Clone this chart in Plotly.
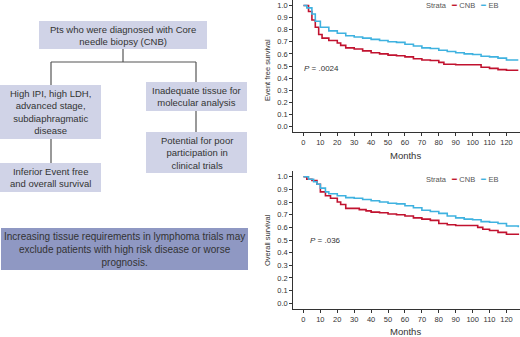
import plotly.graph_objects as go

W, H = 520, 337

# ---------------- data ----------------
months_efs_eb = [0, 2, 5, 7, 10, 15, 20, 25, 30, 35, 40, 45, 50, 55, 60, 65, 70, 75, 80, 85, 90, 95, 100, 105, 110, 115, 120, 127]
efs_eb = [1.0, 0.98, 0.93, 0.87, 0.82, 0.79, 0.77, 0.75, 0.74, 0.73, 0.72, 0.71, 0.70, 0.695, 0.68, 0.665, 0.65, 0.645, 0.63, 0.62, 0.61, 0.60, 0.595, 0.58, 0.575, 0.565, 0.55, 0.55]
months_efs_cnb = [0, 3, 5, 7, 9, 11, 15, 20, 22, 25, 30, 35, 40, 45, 50, 55, 60, 65, 70, 75, 80, 83, 90, 100, 105, 110, 115, 120, 127]
efs_cnb = [1.0, 0.95, 0.88, 0.82, 0.76, 0.73, 0.71, 0.69, 0.67, 0.65, 0.64, 0.625, 0.61, 0.60, 0.59, 0.585, 0.575, 0.56, 0.55, 0.545, 0.53, 0.515, 0.51, 0.51, 0.49, 0.48, 0.47, 0.465, 0.465]

months_os_eb = [0, 3, 6, 8, 10, 13, 15, 20, 25, 30, 35, 40, 45, 50, 55, 60, 65, 70, 75, 80, 85, 90, 95, 100, 105, 110, 115, 120, 127]
os_eb = [1.0, 0.98, 0.96, 0.94, 0.91, 0.88, 0.865, 0.85, 0.835, 0.83, 0.82, 0.81, 0.80, 0.79, 0.785, 0.77, 0.755, 0.735, 0.725, 0.71, 0.69, 0.675, 0.665, 0.66, 0.645, 0.64, 0.63, 0.61, 0.60]
months_os_cnb = [0, 2, 5, 8, 10, 13, 16, 20, 22, 25, 30, 33, 37, 40, 45, 50, 55, 60, 65, 70, 75, 80, 85, 90, 100, 103, 106, 110, 115, 120, 127]
os_cnb = [1.0, 0.98, 0.97, 0.94, 0.88, 0.85, 0.83, 0.80, 0.78, 0.75, 0.75, 0.74, 0.73, 0.72, 0.715, 0.705, 0.70, 0.69, 0.675, 0.665, 0.655, 0.63, 0.62, 0.615, 0.615, 0.60, 0.585, 0.575, 0.56, 0.545, 0.54]

x_ticks = list(range(0, 121, 10))
y_ticks = [i / 10 for i in range(11)]
p_values = ["= .0024", "= .036"]
y_titles = ["Event free survival", "Overall survival"]
strata = ["CNB", "EB"]

flow_boxes = [
    "Pts who were diagnosed with Core<br>needle biopsy (CNB)",
    "High IPI, high LDH,<br>advanced stage,<br>subdiaphragmatic<br>disease",
    "Inadequate tissue for<br>molecular analysis",
    "Inferior Event free<br>and overall survival",
    "Potential for poor<br>participation in<br>clinical trials",
    "Increasing tissue requirements in lymphoma trials may<br>exclude patients with high risk disease or worse<br>prognosis.",
]

RED = "#c1122f"
BLUE = "#3fb2e0"
FONT = "Liberation Sans, Arial, sans-serif"


def px(x):
    return x / W


def py(y):
    return 1 - y / H


fig = go.Figure()

# KM curves
for (mx, vy, name, col, ax) in [
    (months_efs_cnb, efs_cnb, strata[0], RED, ""),
    (months_efs_eb, efs_eb, strata[1], BLUE, ""),
    (months_os_cnb, os_cnb, strata[0], RED, "2"),
    (months_os_eb, os_eb, strata[1], BLUE, "2"),
]:
    fig.add_trace(go.Scatter(x=mx, y=vy, mode="lines", line=dict(color=col, width=1.6, shape="hv"),
                             name=name, showlegend=False, xaxis="x" + ax, yaxis="y" + ax))

axis_common = dict(showgrid=False, zeroline=False, showline=True, linecolor="#333", linewidth=1,
                   ticks="outside", ticklen=3, tickcolor="#333", tickwidth=1, automargin=False,
                   tickfont=dict(family=FONT, size=7.5, color="#333"))

xdom = [px(293.3), 1.0]
fig.update_layout(
    width=W, height=H, margin=dict(l=0, r=0, t=0, b=0),
    paper_bgcolor="white", plot_bgcolor="white",
    xaxis=dict(domain=xdom, range=[-6, 128], tickvals=x_ticks, anchor="y", **axis_common),
    yaxis=dict(domain=[py(132), py(0)], range=[-0.045, 1.045], tickvals=y_ticks, tickformat=".1f",
               anchor="x", **axis_common),
    xaxis2=dict(domain=xdom, range=[-6, 128], tickvals=x_ticks, anchor="y2", **axis_common),
    yaxis2=dict(domain=[py(309), py(171)], range=[-0.045, 1.045], tickvals=y_ticks, tickformat=".1f",
                anchor="x2", **axis_common),
    showlegend=False,
)

ann = []
# axis titles
for yc, t in [(70, y_titles[0]), (240, y_titles[1])]:
    ann.append(dict(x=px(267), y=py(yc), xref="paper", yref="paper", text=t, textangle=-90,
                    xanchor="center", yanchor="middle",
                    showarrow=False, font=dict(family=FONT, size=7.5, color="#333")))
for yc in [155, 331.5]:
    ann.append(dict(x=px(405), y=py(yc), xref="paper", yref="paper", text="Months",
                    xanchor="center", yanchor="middle",
                    showarrow=False, font=dict(family="Liberation Sans Narrow, Arial Narrow, sans-serif",
                                               size=9.5, color="#333")))
# p-values
ann.append(dict(x=-1, y=0.48, xref="x", yref="y", xanchor="left", yanchor="middle",
                text="<i>P</i> " + p_values[0],
                showarrow=False, font=dict(family=FONT, size=8, color="#333")))
ann.append(dict(x=2.5, y=0.5, xref="x2", yref="y2", xanchor="left", yanchor="middle",
                text="<i>P</i> " + p_values[1],
                showarrow=False, font=dict(family=FONT, size=8, color="#333")))
# legends
leg_text = ("Strata&nbsp;&nbsp;&nbsp;<span style='color:%s'>━</span> %s&nbsp;&nbsp;&nbsp;"
            "<span style='color:%s'>━</span> %s") % (RED, strata[0], BLUE, strata[1])
for yc in [5.5, 179]:
    ann.append(dict(x=px(501), y=py(yc), xref="paper", yref="paper", xanchor="right", yanchor="middle",
                    text=leg_text, showarrow=False, font=dict(family=FONT, size=7.5, color="#555")))

# flowchart
LIGHT = "#d0d3e7"
DARK = "#8f98c3"
boxes = [
    (39, 21, 207, 49, LIGHT, 9.5),
    (0, 85, 101, 139, LIGHT, 9.5),
    (146, 82, 247, 111, LIGHT, 9.5),
    (0, 163, 101, 192, LIGHT, 9.5),
    (146, 132, 247, 173, LIGHT, 9.5),
    (1, 228, 248, 270, DARK, 10),
]
shapes = []
for (x0, y0, x1, y1, c, fs), t in zip(boxes, flow_boxes):
    shapes.append(dict(type="rect", xref="paper", yref="paper", x0=px(x0), x1=px(x1), y0=py(y1), y1=py(y0),
                       fillcolor=c, line=dict(width=0), layer="below"))
    ann.append(dict(x=px((x0 + x1) / 2), y=py((y0 + y1) / 2), xref="paper", yref="paper", text=t,
                    xanchor="center", yanchor="middle",
                    showarrow=False, align="center", font=dict(family=FONT, size=fs, color="#333")))

connectors = [
    (123, 49, 123, 62),
    (51, 62, 196, 62),
    (51, 62, 51, 85),
    (196, 62, 196, 82),
    (51, 139, 51, 163),
    (196, 111, 196, 132),
]
for x0, y0, x1, y1 in connectors:
    shapes.append(dict(type="line", xref="paper", yref="paper", x0=px(x0), x1=px(x1), y0=py(y0), y1=py(y1),
                       line=dict(color="#555", width=1.2)))

fig.update_layout(annotations=ann, shapes=shapes)
fig.write_html("out.html", config={"displayModeBar": False},
               post_script="document.body.style.margin='0';document.body.style.padding='0';")
